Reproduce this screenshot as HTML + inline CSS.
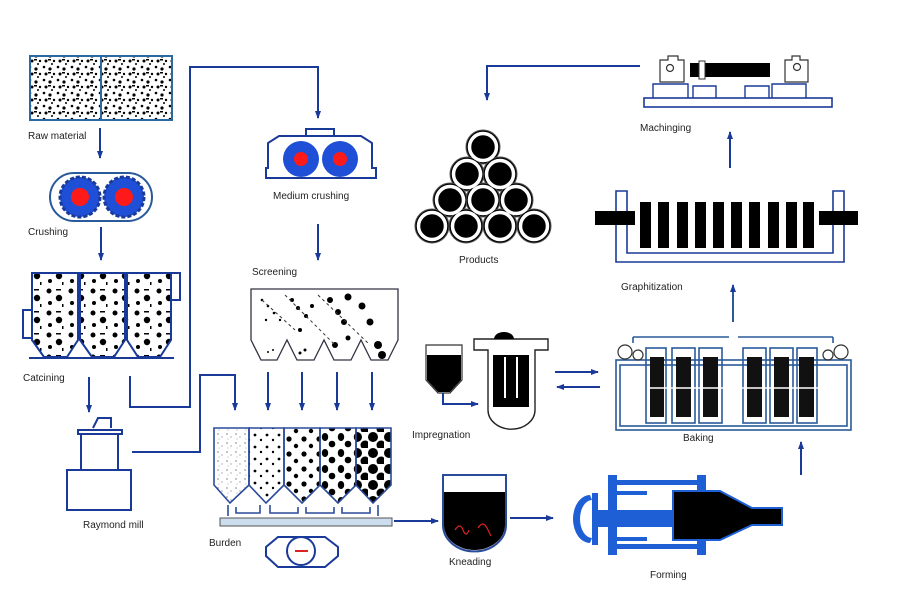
<!DOCTYPE html>
<html><head><meta charset="utf-8"><style>
html,body{margin:0;padding:0;background:#fff;}
svg{display:block;}
text{font-family:"Liberation Sans",sans-serif;font-size:10px;fill:#222;}
</style></head><body>
<svg width="901" height="610" viewBox="0 0 901 610" xmlns="http://www.w3.org/2000/svg">
<defs>
<marker id="a" markerWidth="8" markerHeight="8" refX="7" refY="4" orient="auto" markerUnits="userSpaceOnUse"><path d="M0,1 L8,4 L0,7 z" fill="#1a3a9a"/></marker>
<pattern id="fine" width="14" height="13" patternUnits="userSpaceOnUse"><circle cx="2" cy="2" r="1.3" fill="#000"/><circle cx="8" cy="4" r="1.6" fill="#000"/><circle cx="12" cy="9" r="1.2" fill="#000"/><circle cx="4" cy="9" r="1.5" fill="#000"/><circle cx="10" cy="12" r="1" fill="#000"/><rect x="6" y="7" width="3" height="1.5" fill="#000"/></pattern>
<pattern id="med" width="22" height="22" patternUnits="userSpaceOnUse"><circle cx="5" cy="5" r="2.5" fill="#000"/><circle cx="15" cy="12" r="3.2" fill="#000"/><circle cx="6" cy="17" r="2" fill="#000"/><rect x="12" y="3" width="5" height="1.5" fill="#000"/><rect x="18" y="18" width="1.5" height="3" fill="#000"/></pattern>
<pattern id="sand" width="9" height="9" patternUnits="userSpaceOnUse"><circle cx="2" cy="2" r=".6" fill="#333"/><circle cx="6" cy="5" r=".5" fill="#333"/><circle cx="3" cy="7" r=".4" fill="#333"/></pattern>
<pattern id="s2" width="12" height="12" patternUnits="userSpaceOnUse"><circle cx="3" cy="3" r="1.4" fill="#000"/><circle cx="9" cy="8" r="1.2" fill="#000"/></pattern>
<pattern id="s3" width="15" height="15" patternUnits="userSpaceOnUse"><circle cx="4" cy="4" r="2.6" fill="#000"/><circle cx="11" cy="11" r="2.2" fill="#000"/></pattern>
<pattern id="s4" width="16" height="16" patternUnits="userSpaceOnUse"><ellipse cx="5" cy="5" rx="3.2" ry="4" fill="#000"/><circle cx="12" cy="12" r="3.3" fill="#000"/></pattern>
<pattern id="s5" width="16" height="16" patternUnits="userSpaceOnUse"><circle cx="5" cy="5" r="5" fill="#000"/><circle cx="13" cy="13" r="4.5" fill="#000"/></pattern>
</defs>
<g fill="none" stroke="#1a3a9a" stroke-width="2">
<rect x="30" y="56" width="142" height="64" fill="url(#fine)" stroke="#2a6aa0"/>
<line x1="101" y1="56" x2="101" y2="120" stroke="#2a6aa0"/>
<line x1="100" y1="128" x2="100" y2="158" marker-end="url(#a)"/>
<rect x="50" y="173" width="102" height="48" rx="24" stroke="#2a5a9a"/>
<line x1="101" y1="227" x2="101" y2="260" marker-end="url(#a)"/>
<path d="M32,273 V340 L44,357 H67 L78,340 V273 Z M80,273 V340 L92,357 H114 L125,340 V273 Z M127,273 V340 L138,357 H160 L171,340 V273 Z" fill="url(#med)"/>
<path d="M32,310 H23 V338 H32 M171,273 H180 V300 H171"/>
<path d="M29,358 H174"/>
<line x1="89" y1="377" x2="89" y2="412" marker-end="url(#a)"/>
<path d="M130,376 V407 H190 V67 H318 V118" marker-end="url(#a)"/>
<path d="M78,430 H122 V434 H78 Z M81,434 V470 M118,434 V470 M67,470 H131 V510 H67 Z"/>
<path d="M93,428 L98,418 H111 V428" fill="#fff"/>
<path d="M132,452 H200 V375 H235 V410" marker-end="url(#a)"/>
<path d="M268,168 V143 L279,136 H361 L372,143 V168 H376 V178 H266 V168 Z"/>
<rect x="306" y="129" width="28" height="7"/>
<line x1="318" y1="224" x2="318" y2="260" marker-end="url(#a)"/>
<path d="M251,289 H398 V340 L388,360 H371 L361,340 L351,360 H334 L324,340 L314,360 H297 L287,340 L277,360 H261 L251,340 Z" stroke="#334" stroke-width="1.3"/>
<line x1="268" y1="372" x2="268" y2="410" marker-end="url(#a)"/>
<line x1="302" y1="372" x2="302" y2="410" marker-end="url(#a)"/>
<line x1="337" y1="372" x2="337" y2="410" marker-end="url(#a)"/>
<line x1="372" y1="372" x2="372" y2="410" marker-end="url(#a)"/>
<g stroke="#2a4a9a" stroke-width="1.6">
<path d="M214,428 V485 L230,503 L249,485 V428 Z" fill="url(#sand)"/>
<path d="M249,428 V485 L266,503 L284,485 V428 Z" fill="url(#s2)"/>
<path d="M284,428 V485 L302,503 L320,485 V428 Z" fill="url(#s3)"/>
<path d="M320,428 V485 L338,503 L356,485 V428 Z" fill="url(#s4)"/>
<path d="M356,428 V485 L373,503 L391,485 V428 Z" fill="url(#s5)"/>
<path d="M228,505 V516 M236,507 V513 H260 V505 M270,505 V513 H298 V507 M306,507 V513 H334 V507 M342,507 V513 H370 V507 M378,505 V516"/>
</g>
<rect x="220" y="518" width="172" height="8" fill="#cde" stroke="#555" stroke-width="1"/>
<path d="M278,537 H325 L338,547 V556 L325,567 H278 L266,556 V547 Z"/>
<circle cx="301" cy="551" r="14"/>
<line x1="394" y1="521" x2="438" y2="521" marker-end="url(#a)"/>
<path d="M443,475 H506 V525 A31,26 0 0 1 443,525 Z" fill="#fff" stroke="#2a4a9a"/>
<path d="M444,492 H505 V525 A30.5,25 0 0 1 444,525 Z" fill="#000" stroke="none"/>
<line x1="510" y1="518" x2="553" y2="518" marker-end="url(#a)"/>
<g fill="#1f5fd6" stroke="none">
<path d="M590,495 A17,24 0 0 0 590,543 L592,538 A12,19 0 0 1 592,500 Z"/>
<rect x="592" y="493" width="6" height="52"/>
<rect x="608" y="475" width="9" height="80"/>
<rect x="617" y="480" width="80" height="5"/>
<rect x="617" y="544" width="80" height="5"/>
<rect x="697" y="475" width="9" height="80"/>
<rect x="598" y="510" width="75" height="17"/>
<rect x="617" y="491" width="30" height="4"/>
<rect x="617" y="537" width="30" height="4"/>
</g>
<path d="M673,491 H720 L752,508 H782 V525 H752 L720,540 H673 Z" fill="#000" stroke="#1f5fd6" stroke-width="2"/>
<line x1="801" y1="475" x2="801" y2="442" marker-end="url(#a)"/>
<g stroke="#2a5a9a" stroke-width="1.6">
<rect x="616" y="360" width="235" height="70"/>
<rect x="620" y="365" width="227" height="61"/>
<path d="M633,337 H729 M738,337 H833 M633,337 V343 M833,337 V343"/>
<rect x="646" y="348" width="20" height="75"/><rect x="672" y="348" width="23" height="75"/><rect x="699" y="348" width="23" height="75"/>
<rect x="743" y="348" width="23" height="75"/><rect x="770" y="348" width="23" height="75"/><rect x="797" y="348" width="20" height="75"/>
</g>
<g fill="#111" stroke="none"><rect x="650" y="357" width="14" height="60"/><rect x="676" y="357" width="15" height="60"/><rect x="703" y="357" width="15" height="60"/><rect x="747" y="357" width="15" height="60"/><rect x="774" y="357" width="15" height="60"/><rect x="799" y="357" width="15" height="60"/></g>
<g stroke="#fff" stroke-width="1.5"><line x1="648" y1="388" x2="818" y2="388"/></g>
<circle cx="625" cy="352" r="7" stroke="#333" stroke-width="1.2"/><circle cx="638" cy="355" r="5" stroke="#333" stroke-width="1.2"/>
<circle cx="841" cy="352" r="7" stroke="#333" stroke-width="1.2"/><circle cx="828" cy="355" r="5" stroke="#333" stroke-width="1.2"/>
<line x1="555" y1="372" x2="598" y2="372" marker-end="url(#a)"/>
<line x1="600" y1="387" x2="557" y2="387" marker-end="url(#a)"/>
<path d="M426,345 H462 V380 L450,393 H438 L426,380 Z" fill="#fff" stroke="#333" stroke-width="1.2"/>
<path d="M427,355 H461 V380 L450,392 H438 L427,380 Z" fill="#000" stroke="none"/>
<path d="M443,393 V404 H478" marker-end="url(#a)"/>
<path d="M474,339 H548 V350 H535 V410 A22,18 0 0 1 488,410 V350 H474 Z" stroke="#222" stroke-width="1.4"/>
<path d="M494,339 A10,7 0 0 1 514,339 Z" fill="#000" stroke="none"/>
<rect x="493" y="355" width="36" height="52" fill="#000" stroke="none"/>
<line x1="505" y1="357" x2="505" y2="398" stroke="#fff" stroke-width="2"/><line x1="517" y1="357" x2="517" y2="398" stroke="#fff" stroke-width="2"/>
<line x1="733" y1="322" x2="733" y2="285" stroke="#2a5a9a" marker-end="url(#a)"/>
<path d="M616,191 H627 V253 H833 V191 H844 V262 H616 Z" stroke-width="1.6"/>
<g fill="#000" stroke="none"><rect x="595" y="211" width="40" height="14"/><rect x="819" y="211" width="39" height="14"/>
<rect x="640" y="202" width="11" height="46"/><rect x="658" y="202" width="11" height="46"/><rect x="677" y="202" width="11" height="46"/><rect x="695" y="202" width="11" height="46"/><rect x="713" y="202" width="11" height="46"/><rect x="731" y="202" width="11" height="46"/><rect x="749" y="202" width="11" height="46"/><rect x="768" y="202" width="11" height="46"/><rect x="786" y="202" width="11" height="46"/><rect x="803" y="202" width="11" height="46"/></g>
<line x1="730" y1="168" x2="730" y2="132" marker-end="url(#a)"/>
<rect x="644" y="98" width="188" height="9" stroke-width="1.6"/>
<path d="M653,98 V84 H688 V98 M693,98 V86 H716 V98 M745,98 V86 H769 V98 M772,98 V84 H806 V98" stroke-width="1.4"/>
<path d="M660,82 V60 H668 V56 H678 V60 H684 V82 Z M785,82 V60 H792 V56 H800 V60 H808 V82 Z" stroke="#333" stroke-width="1.2"/>
<circle cx="670" cy="68" r="3.5" stroke="#333" stroke-width="1.2"/><circle cx="797" cy="67" r="3.5" stroke="#333" stroke-width="1.2"/>
<rect x="690" y="63" width="80" height="14" fill="#000" stroke="none"/>
<rect x="699" y="61" width="6" height="18" fill="#fff" stroke="#333" stroke-width="1"/>
<path d="M640,66 H487 V100" marker-end="url(#a)"/>
</g>
<g>
<circle cx="80" cy="197" r="20" fill="#1f4fd6" stroke="#1a3a9a" stroke-dasharray="4 2" stroke-width="3"/><circle cx="80" cy="197" r="9" fill="#ff1a1a"/>
<circle cx="124" cy="197" r="20" fill="#1f4fd6" stroke="#1a3a9a" stroke-dasharray="4 2" stroke-width="3"/><circle cx="124" cy="197" r="9" fill="#ff1a1a"/>
<circle cx="301" cy="159" r="18" fill="#1f4fd6"/><circle cx="301" cy="159" r="7" fill="#ff1a1a"/>
<circle cx="340" cy="159" r="18" fill="#1f4fd6"/><circle cx="340" cy="159" r="7" fill="#ff1a1a"/>
</g>
<g fill="#000">
<circle cx="262" cy="300" r="1.3"/><circle cx="268" cy="306" r="1.3"/><circle cx="274" cy="313" r="1.3"/><circle cx="266" cy="320" r="1.2"/><circle cx="280" cy="320" r="1.2"/>
<circle cx="292" cy="300" r="2"/><circle cx="298" cy="308" r="2"/><circle cx="306" cy="316" r="2"/><circle cx="312" cy="306" r="2"/><circle cx="300" cy="330" r="2"/>
<circle cx="330" cy="300" r="3"/><circle cx="338" cy="312" r="3"/><circle cx="344" cy="322" r="3"/><circle cx="335" cy="345" r="3"/><circle cx="348" cy="338" r="2.5"/>
<circle cx="348" cy="297" r="3.5"/><circle cx="362" cy="306" r="3.5"/><circle cx="370" cy="322" r="3.5"/><circle cx="378" cy="345" r="4"/><circle cx="382" cy="355" r="4"/>
<circle cx="268" cy="352" r="1"/><circle cx="273" cy="350" r="1"/><circle cx="305" cy="350" r="1.5"/><circle cx="300" cy="353" r="1.5"/>
</g>
<path d="M262,300 L295,330 M285,295 L335,345 M318,295 L370,345" stroke="#333" stroke-dasharray="3 3" fill="none"/>
<path d="M455,530 q5,-8 8,0 t6,0 M478,528 q5,-8 9,0 t4,8" stroke="#d22" stroke-width="1.2" fill="none"/>
<line x1="295" y1="551" x2="308" y2="551" stroke="#d22" stroke-width="2"/>
<g fill="#000" stroke="#555" stroke-width="1">
<circle cx="483" cy="147" r="17"/><circle cx="467" cy="174" r="17"/><circle cx="500" cy="174" r="17"/>
<circle cx="450" cy="200" r="17"/><circle cx="483" cy="200" r="17"/><circle cx="516" cy="200" r="17"/>
<circle cx="432" cy="226" r="17"/><circle cx="466" cy="226" r="17"/><circle cx="500" cy="226" r="17"/><circle cx="534" cy="226" r="17"/>
</g>
<g fill="none" stroke="#fff" stroke-width="3.5">
<circle cx="483" cy="147" r="13.5"/><circle cx="467" cy="174" r="13.5"/><circle cx="500" cy="174" r="13.5"/>
<circle cx="450" cy="200" r="13.5"/><circle cx="483" cy="200" r="13.5"/><circle cx="516" cy="200" r="13.5"/>
<circle cx="432" cy="226" r="13.5"/><circle cx="466" cy="226" r="13.5"/><circle cx="500" cy="226" r="13.5"/><circle cx="534" cy="226" r="13.5"/>
</g>
<text x="28" y="139" font-size="9">Raw material</text>
<text x="28" y="235">Crushing</text>
<text x="23" y="381">Catcining</text>
<text x="83" y="528">Raymond mill</text>
<text x="273" y="199">Medium crushing</text>
<text x="252" y="275">Screening</text>
<text x="209" y="546">Burden</text>
<text x="449" y="565">Kneading</text>
<text x="650" y="578">Forming</text>
<text x="683" y="441">Baking</text>
<text x="412" y="438">Impregnation</text>
<text x="621" y="290">Graphitization</text>
<text x="640" y="131">Machinging</text>
<text x="459" y="263">Products</text>
</svg>
</body></html>
